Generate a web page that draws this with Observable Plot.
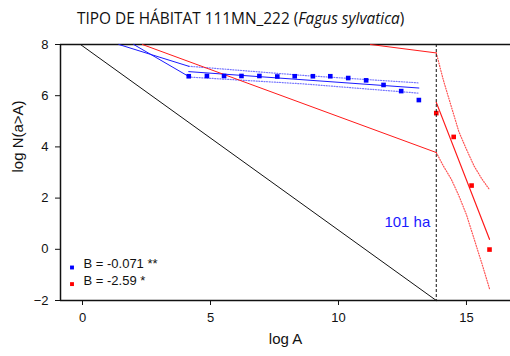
<!DOCTYPE html>
<html>
<head>
<meta charset="utf-8">
<script src="https://cdn.jsdelivr.net/npm/d3@7"></script>
<script src="https://cdn.jsdelivr.net/npm/@observablehq/plot@0.6"></script>
<style>
  body { margin: 0; background: #fff; }
  #wrap { position: relative; width: 510px; height: 356px; }
  #title { position: absolute; left: 77px; top: 9px; font-family: "Open Sans", sans-serif; font-size: 15.4px; line-height: 20px; color: #111; white-space: nowrap; }
  #chart { position: absolute; left: 0; top: 0; }
</style>
</head>
<body>
<div id="wrap">
  <div id="chart"></div>
  <div id="title">TIPO DE HÁBITAT 111MN_222 (<i>Fagus sylvatica</i>)</div>
</div>
<script>
// Observed points (log A, log N(a>A))
const blueX = [4.15, 4.86, 5.53, 6.21, 6.91, 7.61, 8.29, 9.00, 9.68, 10.38, 11.08, 11.76, 12.45, 13.14];
const blueY = [6.76, 6.77, 6.77, 6.77, 6.77, 6.75, 6.76, 6.76, 6.76, 6.69, 6.60, 6.42, 6.18, 5.83];
const redX = [13.82, 14.50, 15.20, 15.90];
const redY = [5.32, 4.39, 2.49, -0.01];

// Blue fit and confidence band
const blueFitX = [4.15, 13.14];
const blueFitY = [6.94, 6.30];
const blueBandX = [4.15, 8.65, 13.14];
const blueUpperY = [7.15, 6.79, 6.50];
const blueLowerY = [6.73, 6.46, 6.10];
const blueExtUpperX = [1.42, 4.15], blueExtUpperY = [8, 7.15];
const blueExtLowerX = [2.00, 4.15], blueExtLowerY = [8, 6.75];

// Red fit and confidence band
const redFitX = [13.82, 15.90];
const redFitY = [5.74, 0.39];
const redBandX = [13.82, 14.1, 14.4, 14.7, 15.0, 15.3, 15.6, 15.9];
const redUpperY = [7.67, 6.6, 5.6, 4.6, 3.9, 3.25, 2.75, 2.33];
const redLowerY = [3.78, 3.25, 2.75, 2.1, 1.35, 0.4, -0.55, -1.54];
const redExtLowerX = [2.34, 13.82], redExtLowerY = [8, 3.78];
const redExtUpperX = [11.25, 13.82], redExtUpperY = [8, 7.67];

// Reference line and threshold
const refX = [-0.08, 13.82], refY = [8, -2];
const thresholdX = 13.82;
const thresholdLabel = "101 ha";
const thresholdLabelY = 1.05;

const xTicks = [0, 5, 10, 15];
const yTicks = [-2, 0, 2, 4, 6, 8];
const xDomain = [-0.86, 16.72];
const yDomain = [-2, 8];
const legendLabels = ["B = -0.071 **", "B = -2.59 *"];
const legendColors = ["#0000ff", "#ff0000"];

const pts = (xs, ys) => xs.map((x, i) => ({x, y: ys[i]}));
const BLUE = "#1a1aff", RED = "#ff1a1a";
const dotted = {strokeDasharray: "1,1.6", strokeWidth: 1.2};

const legendMarks = legendLabels.flatMap((label, i) => [
  Plot.dot([label], {frameAnchor: "bottom-left", dx: 11.5, dy: -33 + i * 16.6, fill: legendColors[i], symbol: "square", r: 2.2, stroke: "none"}),
  Plot.text([label], {frameAnchor: "bottom-left", dx: 23, dy: -32.5 + i * 16.6, textAnchor: "start", fill: "#111", fontSize: 13})
]);

const chart = Plot.plot({
  width: 510, height: 356,
  marginLeft: 60, marginRight: 0, marginTop: 44, marginBottom: 56,
  x: {domain: xDomain},
  y: {domain: yDomain},
  style: {fontFamily: "Liberation Sans, Arial, sans-serif", fontSize: "13px", color: "#111", background: "white"},
  marks: [
    Plot.axisX({ticks: xTicks, tickSize: 5, tickPadding: 7, label: null, fontSize: 13}),
    Plot.axisY({ticks: yTicks, tickSize: 5, tickPadding: 7, label: null, fontSize: 13}),
    Plot.ruleY([yDomain[1]], {stroke: "#111", strokeWidth: 1.5}),
    Plot.ruleY([yDomain[0]], {stroke: "#111", strokeWidth: 1.5}),
    Plot.ruleX([xDomain[0]], {stroke: "#111", strokeWidth: 1.5}),
    // reference line
    Plot.line(pts(refX, refY), {x: "x", y: "y", stroke: "#111", strokeWidth: 1}),
    // blue
    Plot.line(pts(blueExtUpperX, blueExtUpperY), {x: "x", y: "y", stroke: BLUE, strokeWidth: 1}),
    Plot.line(pts(blueExtLowerX, blueExtLowerY), {x: "x", y: "y", stroke: BLUE, strokeWidth: 1}),
    Plot.line(pts(blueBandX, blueUpperY), {x: "x", y: "y", stroke: BLUE, strokeOpacity: 0.6, ...dotted}),
    Plot.line(pts(blueBandX, blueLowerY), {x: "x", y: "y", stroke: BLUE, strokeOpacity: 0.6, ...dotted}),
    Plot.line(pts(blueFitX, blueFitY), {x: "x", y: "y", stroke: BLUE, strokeWidth: 1}),
    // red
    Plot.line(pts(redExtLowerX, redExtLowerY), {x: "x", y: "y", stroke: RED, strokeWidth: 1}),
    Plot.line(pts(redExtUpperX, redExtUpperY), {x: "x", y: "y", stroke: RED, strokeWidth: 1}),
    Plot.line(pts(redBandX, redUpperY), {x: "x", y: "y", stroke: RED, strokeOpacity: 0.75, ...dotted}),
    Plot.line(pts(redBandX, redLowerY), {x: "x", y: "y", stroke: RED, strokeOpacity: 0.75, ...dotted}),
    Plot.line(pts(redFitX, redFitY), {x: "x", y: "y", stroke: RED, strokeWidth: 1.2}),
    // points
    Plot.dot(pts(blueX, blueY), {x: "x", y: "y", symbol: "square", r: 2.6, fill: "#0000ff", stroke: "none"}),
    Plot.dot(pts(redX, redY), {x: "x", y: "y", symbol: "square", r: 2.6, fill: "#ff0000", stroke: "none"}),
    // threshold
    Plot.ruleX([thresholdX], {stroke: "#111", strokeWidth: 1, strokeDasharray: "3,2"}),
    Plot.text([thresholdLabel], {x: thresholdX, y: thresholdLabelY, dx: -6, textAnchor: "end", fill: "#1a1aff", fontSize: 15}),
    // legend
    ...legendMarks,
    // axis titles
    Plot.text(["log A"], {frameAnchor: "bottom", dy: 43, fontSize: 15, fill: "#111"}),
    Plot.text(["log N(a>A)"], {frameAnchor: "left", dx: -42, rotate: -90, fontSize: 15, fill: "#111"})
  ]
});
document.getElementById("chart").appendChild(chart);
</script>
</body>
</html>
